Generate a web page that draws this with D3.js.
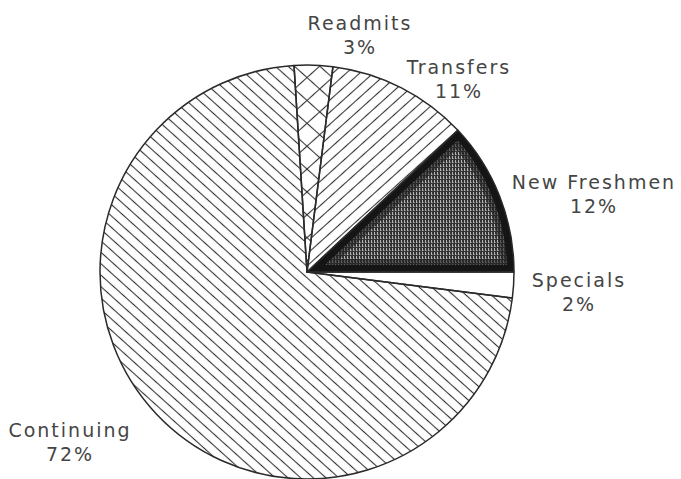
<!DOCTYPE html>
<html>
<head>
<meta charset="utf-8">
<script src="https://cdn.jsdelivr.net/npm/d3@7"></script>
<style>
  body { margin: 0; background: #fff; }
  svg text { font-family: "DejaVu Sans", sans-serif; fill: #454545; }
</style>
</head>
<body>
<svg id="svg1" width="681" height="479"></svg>
<script>
// slices listed clockwise starting at 3 o'clock
var categories = ["Specials", "Continuing", "Readmits", "Transfers", "New Freshmen"],
    percents = [2, 72, 3, 11, 12];

var svg1 = d3.select("#svg1"),
    cx = 307, cy = 272, radius = 207;

var defs = svg1.append("defs");

function hatch(id, angle, gap) {
  var p = defs.append("pattern")
      .attr("id", id)
      .attr("patternUnits", "userSpaceOnUse")
      .attr("width", gap).attr("height", gap)
      .attr("patternTransform", "rotate(" + angle + ")");
  p.append("line")
      .attr("x1", -1).attr("y1", gap / 2).attr("x2", gap + 1).attr("y2", gap / 2)
      .attr("stroke", "#333").attr("stroke-width", 1.1);
  return p;
}
hatch("continuing", 42, 8.5);
hatch("transfers", -42, 9);
hatch("readmits", 42, 17);
hatch("readmits2", -42, 17);

var dots = defs.append("pattern")
    .attr("id", "freshmen")
    .attr("patternUnits", "userSpaceOnUse")
    .attr("width", 3).attr("height", 4);
dots.append("rect").attr("width", 3).attr("height", 4).attr("fill", "#333");
dots.append("rect").attr("x", 1).attr("y", 0).attr("width", 1).attr("height", 3).attr("fill", "#b4b4b4");
dots.append("rect").attr("x", 2).attr("y", 2).attr("width", 1).attr("height", 1).attr("fill", "#7a7a7a");

var fills = {
  "Specials": ["#fff"],
  "Continuing": ["url(#continuing)"],
  "Readmits": ["url(#readmits)", "url(#readmits2)"],
  "Transfers": ["url(#transfers)"],
  "New Freshmen": ["url(#freshmen)"]
};

var pie = d3.pie().sort(null)
    .value(function(d) { return d.value; })
    .startAngle(Math.PI / 2)
    .endAngle(Math.PI / 2 + 2 * Math.PI);

var arc = d3.arc().innerRadius(0).outerRadius(radius);

var data = categories.map(function(c, i) { return {name: c, value: percents[i]}; });
var arcs = pie(data);

var g1 = svg1.append("g")
    .attr("transform", "translate(" + cx + "," + cy + ")");

arcs.forEach(function(a) {
  g1.append("path").attr("d", arc(a)).attr("fill", "#fff");
  fills[a.data.name].forEach(function(f) {
    g1.append("path").attr("d", arc(a)).attr("fill", f);
  });
  if (a.data.name === "New Freshmen") {
    // dark rim inside the stippled slice, two steps for a soft edge
    defs.append("clipPath").attr("id", "clipNF")
      .append("path").attr("d", arc(a));
    g1.append("path").attr("d", arc(a))
        .attr("fill", "none")
        .attr("stroke", "#222")
        .attr("stroke-opacity", 0.6)
        .attr("stroke-width", 26)
        .attr("stroke-linejoin", "round")
        .attr("clip-path", "url(#clipNF)");
    g1.append("path").attr("d", arc(a))
        .attr("fill", "none")
        .attr("stroke", "#151515")
        .attr("stroke-width", 14)
        .attr("stroke-linejoin", "round")
        .attr("clip-path", "url(#clipNF)");
  }
});

g1.selectAll(".slice")
  .data(arcs)
  .enter().append("path")
    .attr("class", "slice")
    .attr("d", arc)
    .attr("fill", "none")
    .attr("stroke", "#2a2a2a")
    .attr("stroke-width", 1.5)
    .attr("stroke-linejoin", "round");

// label anchors (centre x, baseline of first line)
var labelAt = {
  "Readmits": [360, 30],
  "Transfers": [459, 74],
  "New Freshmen": [594, 189],
  "Specials": [579, 287],
  "Continuing": [70, 437]
};

data.forEach(function(d) {
  var p = labelAt[d.name];
  var t = svg1.append("text")
      .attr("text-anchor", "middle")
      .attr("font-size", 19)
      .attr("letter-spacing", 2);
  t.append("tspan").attr("x", p[0]).attr("y", p[1]).text(d.name);
  t.append("tspan").attr("x", p[0]).attr("y", p[1] + 24).text(d.value + "%");
});
</script>
</body>
</html>
